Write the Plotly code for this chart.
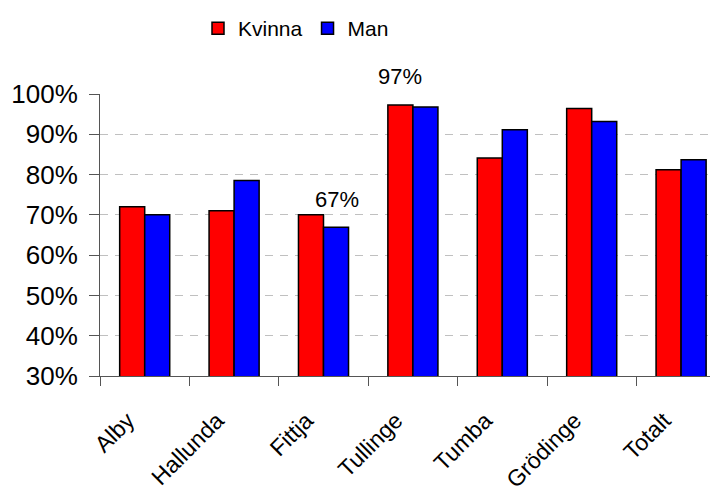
import plotly.graph_objects as go

categories = ["Alby", "Hallunda", "Fittja", "Tullinge", "Tumba", "Grödinge", "Totalt"]
kvinna = [72, 71, 70, 97.3, 84.1, 96.4, 81.2]
man = [70, 78.5, 66.9, 96.8, 91.1, 93.2, 83.7]
y_ticks = [30, 40, 50, 60, 70, 80, 90, 100]
# value labels shown in the chart: (category, series, text)
value_labels = [("Tullinge", "Kvinna", "97%"), ("Fittja", "Man", "67%")]

FONT = "Liberation Sans, Arial, sans-serif"

fig = go.Figure()
fig.add_trace(go.Bar(name="Kvinna", x=categories, y=kvinna,
                     marker=dict(color="#FF0000", line=dict(color="#000000", width=1.5))))
fig.add_trace(go.Bar(name="Man", x=categories, y=man,
                     marker=dict(color="#0000FF", line=dict(color="#000000", width=1.5))))

series_vals = {"Kvinna": kvinna, "Man": man}
for cat, ser, txt in value_labels:
    val = series_vals[ser][categories.index(cat)]
    fig.add_annotation(x=cat, y=val, text=txt, showarrow=False,
                       xshift=-13 if ser == "Kvinna" else 13, yshift=28,
                       yanchor="middle", font=dict(size=22, color="#000", family=FONT))

W, H = 718, 493
OFF = 8  # page body margin
left, top, bottom = 100 - OFF, 94.3 - OFF, 376.4 - OFF
cat_w = 89.4
x_end = -0.5 + (W - left) / cat_w

fig.update_layout(
    width=W, height=H,
    margin=dict(l=left, r=0, t=top, b=H - bottom, pad=0),
    plot_bgcolor="white", paper_bgcolor="white",
    barmode="group", bargap=0.44, bargroupgap=0,
    font=dict(family=FONT, size=20, color="#000"),
    showlegend=True,
    legend=dict(orientation="h", xref="container", yref="container",
                x=(198 - OFF) / W, y=1, xanchor="left", yanchor="top",
                font=dict(size=21, family=FONT), itemwidth=30, tracegroupgap=0,
                bgcolor="rgba(0,0,0,0)"),
    xaxis=dict(range=[-0.5, x_end], showline=True, linecolor="#555", linewidth=1,
               ticks="outside", tickson="boundaries", ticklen=9, tickcolor="#555",
               tickangle=-45, ticklabelstandoff=21, ticklabelshift=-17,
               showgrid=False, tickfont=dict(size=23, family=FONT)),
    yaxis=dict(range=[30, 100], tickvals=y_ticks, ticktext=[f"{v}%" for v in y_ticks],
               showline=True, linecolor="#555", linewidth=1,
               ticks="outside", ticklen=10, tickcolor="#555", ticklabelstandoff=6,
               showgrid=True, gridcolor="#C0C0C0", gridwidth=1, griddash="8px,7px",
               zeroline=False, tickfont=dict(size=26, family=FONT)),
)
fig.write_html("out.html")
